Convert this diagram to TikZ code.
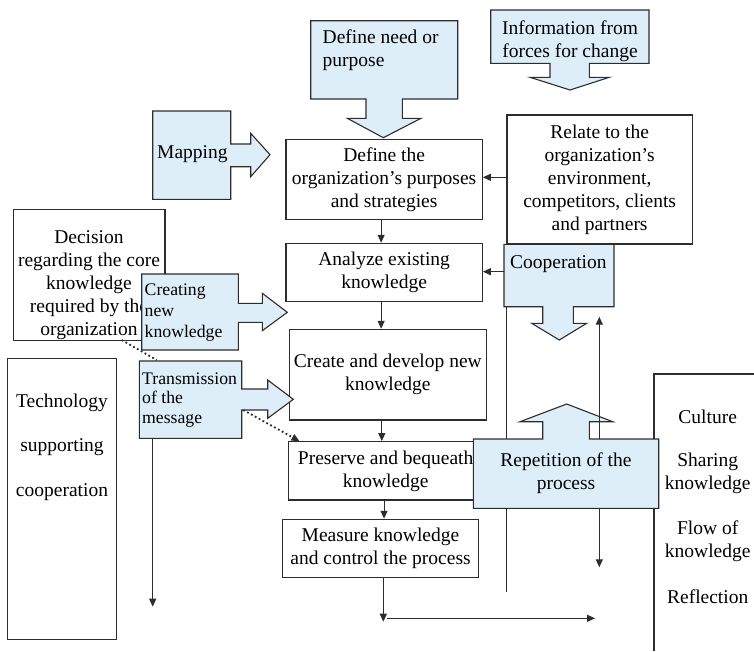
\documentclass[tikz,border=0pt]{standalone}
\usepackage{fontspec}
\setmainfont{Liberation Serif}
\usetikzlibrary{arrows.meta}
\definecolor{cfill}{RGB}{221,238,248}
\definecolor{cline}{RGB}{45,45,45}
\begin{document}
\begin{tikzpicture}[x=1pt,y=-1pt]
\tikzset{
  basefont/.style={font=\rmfamily\fontsize{19.5}{23}\selectfont, text=black},
  boxn/.style={basefont, draw=cline, fill=white, line width=1.1pt, inner sep=0pt, align=center},
  co/.style={draw=cline, fill=cfill, line width=1.1pt, line join=miter},
  arr/.style={draw=cline, line width=1.1pt, -{Triangle[length=8pt,width=7pt]}},
  ln/.style={draw=cline, line width=1.1pt},
  dots/.style={draw=cline, line width=1.8pt, dash pattern=on 1.8pt off 2.6pt},
  txt/.style={basefont, inner sep=0pt, align=center},
  ltxt/.style={inner sep=0pt, align=left, anchor=west},
}
\useasboundingbox (0,0) rectangle (754,651);
\fill[white] (0,0) rectangle (754,651);

% ---------- callout: Define need or purpose ----------
\path[co] (310.7,20.7) -- (457.7,20.7) -- (457.7,99) -- (402.3,99) -- (402.3,118.3)
  -- (421,118.3) -- (383.3,137.7) -- (347.3,118.3) -- (366,118.3) -- (366,99)
  -- (310.7,99) -- cycle;
\node[ltxt, basefont] (needt) at (322.5,50.5) {Define need or\\purpose};

% ---------- callout: Mapping ----------
\path[co] (152.7,111) -- (230.7,111) -- (230.7,144) -- (250.7,144) -- (250.7,133.3)
  -- (270,154.7) -- (250.7,176.7) -- (250.7,166.7) -- (230.7,166.7) -- (230.7,199.3)
  -- (152.7,199.3) -- cycle;
\node[ltxt, basefont] (mapt) at (157,154) {Mapping};

% ---------- callout: Information from forces for change ----------
\path[co] (490.7,10) -- (649,10) -- (649,63.3) -- (589.3,63.3) -- (589.3,77.3)
  -- (609.3,77.3) -- (570,90) -- (530,77.3) -- (550,77.3) -- (550,63.3)
  -- (490.7,63.3) -- cycle;
\node[txt] (infot) at (570,41.5) {Information from\\forces for change};

% ---------- main process boxes ----------
\node[boxn, minimum width=196.3pt, minimum height=80pt] (defp) at (384.15,179.3)
  {Define the\\organization’s purposes\\and strategies};
\node[boxn, minimum width=196.3pt, minimum height=58pt] (analyze) at (384.15,272.3)
  {Analyze existing\\knowledge};
\node[boxn, minimum width=197pt, minimum height=90.7pt] (create) at (387.8,374.65)
  {Create and develop new\\knowledge};
\node[boxn, minimum width=194.7pt, minimum height=58.3pt] (preserve) at (385.65,470.85)
  {Preserve and bequeath\\knowledge};
\node[boxn, minimum width=196.4pt, minimum height=58pt] (measure) at (380.5,548.3)
  {Measure knowledge\\and control the process};
\node[boxn, minimum width=185.3pt, minimum height=129pt] (relate) at (599.65,179.5)
  {Relate to the\\organization’s\\environment,\\competitors, clients\\and partners};

% ---------- decision box ----------
\node[boxn, minimum width=151.7pt, minimum height=131.4pt] (decision) at (89.15,275) {};
\node[txt, font=\rmfamily\fontsize{19.5}{22.9}\selectfont] (dect) at (89,285)
  {Decision\\regarding the core\\knowledge\\required by the\\organization};

% ---------- technology box ----------
\node[boxn, minimum width=109pt, minimum height=281pt] (tech) at (61.8,498.8) {};
\node[txt, font=\rmfamily\fontsize{19.5}{44.5}\selectfont] (techt) at (62,447)
  {Technology\\supporting\\cooperation};

% ---------- callout: Creating new knowledge ----------
\path[co] (141.7,274) -- (238.3,274) -- (238.3,303.3) -- (262.3,303.3) -- (262.3,293.3)
  -- (287.3,312.3) -- (262.3,330.7) -- (262.3,322.3) -- (238.3,322.3) -- (238.3,350)
  -- (141.7,350) -- cycle;
\node[ltxt, font=\rmfamily\fontsize{17.7}{21}\selectfont] (creat) at (144.5,313) {Creating\\new\\knowledge};

% ---------- callout: Transmission of the message ----------
\path[co] (139.3,361) -- (241.7,361) -- (241.7,389) -- (267.7,389) -- (267.7,380)
  -- (293.3,399.3) -- (267.7,418.3) -- (267.7,410) -- (241.7,410) -- (241.7,438.3)
  -- (139.3,438.3) -- cycle;
\node[ltxt, font=\rmfamily\fontsize{17.7}{19.5}\selectfont] (trant) at (142,400) {Transmission\\of the\\message};

% ---------- callout: Cooperation ----------
\path[co] (504,244.3) -- (614,244.3) -- (614,306.7) -- (573.3,306.7) -- (573.3,323.3)
  -- (586.7,323.3) -- (559.3,340) -- (531.7,323.3) -- (542.7,323.3) -- (542.7,306.7)
  -- (504,306.7) -- cycle;
\node[ltxt, basefont] (coopt) at (510,264.5) {Cooperation};

% ---------- culture box ----------
\draw[ln] (754,374) -- (654,374) -- (654,651);
\node[txt] (cult1) at (707.7,417) {Culture};
\node[txt] (cult2) at (707.7,473) {Sharing\\knowledge};
\node[txt] (cult3) at (707.7,541) {Flow of\\knowledge};
\node[txt] (cult4) at (707.7,597) {Reflection};

% ---------- vertical line at left of repetition ----------
\coordinate (vlTop) at (506.5,306.7);
\coordinate (vlBot) at (506.5,591.7);
\draw[ln] (vlTop) -- (vlBot);

% ---------- callout: Repetition of the process ----------
\path[co] (473.3,439) -- (542.7,439) -- (542.7,421.7) -- (520,421.7) -- (566.7,404)
  -- (612.7,421.7) -- (589.3,421.7) -- (589.3,439) -- (658.7,439) -- (658.7,508.3)
  -- (473.3,508.3) -- cycle;
\node[txt] (rept) at (566,473) {Repetition of the\\process};

% ---------- connectors ----------
\draw[arr] ([xshift=-3pt]defp.south) -- ([xshift=-3pt]analyze.north);
\draw[arr] ([xshift=-3pt]analyze.south) -- ([xshift=-3pt]analyze.south |- create.north);
\draw[arr] ([xshift=-6pt]create.south) -- ([xshift=-6pt]create.south |- preserve.north);
\draw[arr] ([xshift=-1.6pt]preserve.south) -- ([xshift=-1.6pt]preserve.south |- measure.north);
\coordinate (mdown) at (383.3,621.7);
\draw[arr] ([xshift=2.8pt]measure.south) -- (mdown);
\coordinate (hstart) at (387.3,618.3);
\coordinate (hend) at (595,618.3);
\draw[arr] (hstart) -- (hend);
\draw[arr] (relate.west |- 0,177.3) -- (defp.east |- 0,177.3);
\coordinate (coopL) at (504,271.7);
\draw[arr] (coopL) -- (analyze.east |- coopL);
\coordinate (trB) at (152.7,438.3);
\coordinate (trEnd) at (152.7,606.7);
\draw[arr] (trB) -- (trEnd);

% dotted connectors
\coordinate (decDot) at (121.7,340);
\coordinate (trTop) at (156.7,360);
\draw[dots] (decDot) -- (trTop);
\coordinate (trDot) at (243.3,410);
\draw[dots, -{Triangle[length=8pt,width=7pt]}] (trDot) -- ([xshift=11.7pt]preserve.north west);

% right vertical double arrow
\coordinate (upA) at (599.3,439);
\coordinate (upTip) at (599.3,316.7);
\coordinate (dnA) at (599.3,508.3);
\coordinate (dnTip) at (599.3,567.3);
\draw[arr] (upA) -- (upTip);
\draw[arr] (dnA) -- (dnTip);
\end{tikzpicture}
\end{document}
